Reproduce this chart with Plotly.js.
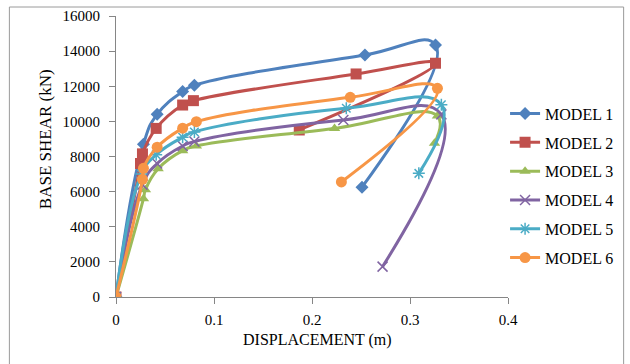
<!DOCTYPE html>
<html>
<head>
<meta charset="utf-8">
<script src="https://cdn.plot.ly/plotly-3.0.1.min.js"></script>
<style>html,body{margin:0;padding:0;background:#fff;}#chart{width:630px;height:364px;}</style>
</head>
<body>
<div id="chart"></div>
<script>
// Displacement (m) and base shear (kN)
const seriesNames = ["MODEL 1", "MODEL 2", "MODEL 3", "MODEL 4", "MODEL 5", "MODEL 6"];
const model1X = [0, 0.028, 0.042, 0.068, 0.080, 0.254, 0.326, 0.251];
const model1Y = [0, 8700, 10400, 11700, 12050, 13780, 14350, 6250];
const model2X = [0, 0.025, 0.027, 0.041, 0.068, 0.079, 0.245, 0.326, 0.187];
const model2Y = [0, 7600, 8150, 9600, 10930, 11180, 12700, 13310, 9510];
const model3X = [0, 0.028, 0.030, 0.043, 0.068, 0.082, 0.223, 0.328, 0.325];
const model3Y = [0, 5600, 6100, 7300, 8330, 8600, 9600, 10300, 8750];
const model4X = [0, 0.027, 0.042, 0.068, 0.080, 0.232, 0.332, 0.272];
const model4Y = [0, 6400, 7600, 8600, 8850, 10080, 10400, 1730];
const model5X = [0, 0.026, 0.041, 0.068, 0.080, 0.235, 0.332, 0.309];
const model5Y = [0, 7000, 8100, 9100, 9400, 10750, 10950, 7040];
const model6X = [0, 0.027, 0.028, 0.042, 0.068, 0.082, 0.239, 0.328, 0.230];
const model6Y = [0, 6700, 7330, 8530, 9610, 9980, 11370, 11880, 6550];
const xTicks = [0, 0.1, 0.2, 0.3, 0.4];
const yTicks = [0, 2000, 4000, 6000, 8000, 10000, 12000, 14000, 16000];

const xs = [model1X, model2X, model3X, model4X, model5X, model6X];
const ys = [model1Y, model2Y, model3Y, model4Y, model5Y, model6Y];
const colors = ["#4F81BD", "#C0504D", "#9BBB59", "#8064A2", "#4BACC6", "#F79646"];
const symbols = ["diamond", "square", "triangle-up", "x-thin-open", "asterisk-open", "circle"];
const sizes = [10, 11, 10, 10, 10, 11];

const traces = seriesNames.map((n, i) => ({
  type: "scatter",
  mode: "lines+markers",
  name: n,
  legendgroup: "g" + i,
  x: xs[i],
  y: ys[i],
  line: {color: colors[i], width: 3, shape: "spline", smoothing: 1.3},
  marker: {symbol: symbols[i], size: sizes[i], color: colors[i], line: {color: colors[i], width: (i === 3 || i === 4) ? 1.5 : 0}}
}));

const serif = "Liberation Serif, Times New Roman, serif";
const layout = {
  width: 630, height: 364,
  margin: {l: 116, r: 121, t: 16, b: 67},
  paper_bgcolor: "#ffffff",
  plot_bgcolor: "#ffffff",
  showlegend: true,
  legend: {x: 0.99, xanchor: "left", y: 0.713, yanchor: "top", font: {family: serif, size: 16, color: "#000"}, tracegroupgap: 5, bgcolor: "rgba(0,0,0,0)"},
  xaxis: {
    range: [0, 0.4], tickvals: xTicks, ticktext: xTicks.map(String),
    showgrid: false, zeroline: false, showline: true, linecolor: "#868686", linewidth: 1,
    ticks: "outside", ticklen: 6, tickcolor: "#868686",
    tickfont: {family: serif, size: 15, color: "#000"}, ticklabelstandoff: 3
  },
  yaxis: {
    range: [0, 16000], tickvals: yTicks, ticktext: yTicks.map(String),
    showgrid: false, zeroline: false, showline: true, linecolor: "#868686", linewidth: 1,
    ticks: "outside", ticklen: 6, tickcolor: "#868686",
    tickfont: {family: serif, size: 15, color: "#000"}, ticklabelstandoff: 6
  },
  annotations: [
    {text: "BASE SHEAR (kN)", xref: "paper", yref: "paper", x: -0.181, y: 0.562, xanchor: "center", yanchor: "middle", textangle: -90, showarrow: false, font: {family: serif, size: 17, color: "#000"}},
    {text: "DISPLACEMENT (m)", xref: "paper", yref: "paper", x: 0.515, y: -0.153, xanchor: "center", yanchor: "middle", showarrow: false, font: {family: serif, size: 16, color: "#000"}}
  ],
  shapes: [
    {type: "rect", xref: "paper", yref: "paper", x0: -0.272, x1: 1.295, y0: -0.4, y1: 1.032, line: {color: "#9a9a9a", width: 1}}
  ]
};

Plotly.newPlot("chart", traces, layout, {displayModeBar: false, staticPlot: true});
</script>
</body>
</html>
